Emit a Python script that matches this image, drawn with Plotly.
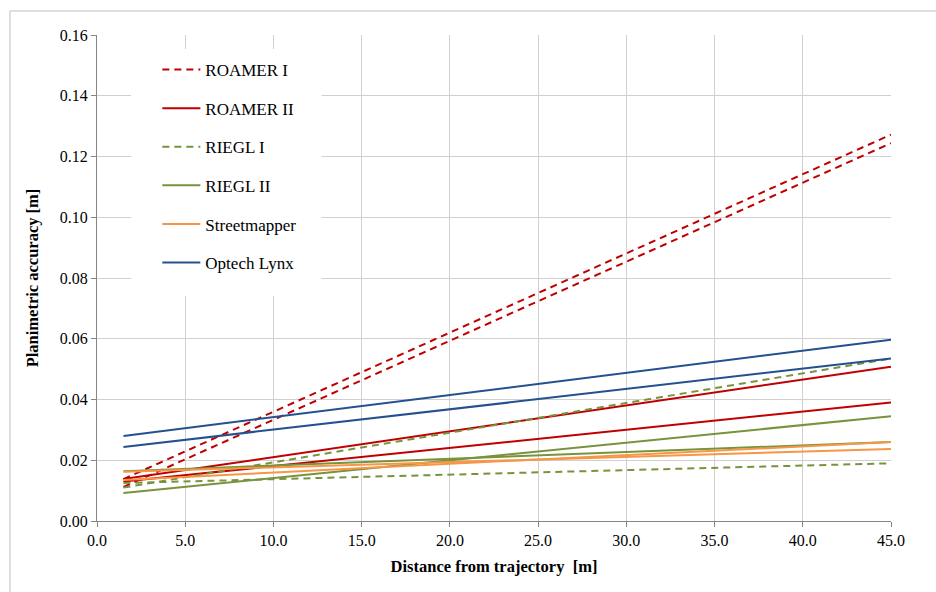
import plotly.graph_objects as go

# Distance from trajectory [m] (start and end of each fitted line)
x_dist = [1.5, 45.0]

series_names = ["ROAMER I", "ROAMER II", "RIEGL I", "RIEGL II", "Streetmapper", "Optech Lynx"]

# Planimetric accuracy [m], two lines per system
roamer1_a = [0.0138, 0.1272]
roamer1_b = [0.0112, 0.1244]
roamer2_a = [0.0138, 0.0508]
roamer2_b = [0.0130, 0.0390]
riegl1_a = [0.0110, 0.0535]
riegl1_b = [0.0125, 0.0190]
riegl2_a = [0.0092, 0.0345]
riegl2_b = [0.0164, 0.0260]
street_a = [0.0162, 0.0237]
street_b = [0.0135, 0.0260]
optech_a = [0.0280, 0.0597]
optech_b = [0.0244, 0.0535]

series_values = [
    (roamer1_a, roamer1_b),
    (roamer2_a, roamer2_b),
    (riegl1_a, riegl1_b),
    (riegl2_a, riegl2_b),
    (street_a, street_b),
    (optech_a, optech_b),
]
colors = ["#C00000", "#C00000", "#77933C", "#77933C", "#F79646", "#23508F"]
dashes = ["7px,5px", "solid", "7px,5px", "solid", "solid", "solid"]

x_ticks = [0, 5, 10, 15, 20, 25, 30, 35, 40, 45]
y_ticks = [0.00, 0.02, 0.04, 0.06, 0.08, 0.10, 0.12, 0.14, 0.16]

FONT = "Liberation Serif"

fig = go.Figure()
for name, (ya, yb), c, d in zip(series_names, series_values, colors, dashes):
    for i, yv in enumerate((ya, yb)):
        fig.add_trace(go.Scatter(
            x=x_dist, y=yv, mode="lines", name=name,
            legendgroup=name, showlegend=(i == 0),
            line=dict(color=c, width=2, dash=d),
        ))

fig.update_layout(
    width=936, height=592,
    margin=dict(l=97, r=45, t=35, b=71),
    paper_bgcolor="white", plot_bgcolor="white",
    font=dict(family=FONT, size=16, color="#000000"),
    showlegend=True,
    legend=dict(
        x=0.076, y=0.965, xanchor="left", yanchor="top",
        bgcolor="rgba(255,255,255,0)", borderwidth=0,
        font=dict(family=FONT, size=17, color="#000000"),
        tracegroupgap=13.5, itemwidth=38,
    ),
    xaxis=dict(
        range=[0, 45], tickvals=x_ticks, tickformat=".1f",
        showgrid=True, gridcolor="#D0D0D0", gridwidth=1,
        showline=True, linecolor="#868686", linewidth=1,
        ticks="outside", ticklen=5, tickcolor="#868686",
        zeroline=False,
        title=dict(text="<b>Distance from trajectory  [m]</b>",
                   font=dict(family=FONT, size=16.5), standoff=12),
        tickfont=dict(family=FONT, size=16),
    ),
    yaxis=dict(
        range=[0, 0.16], tickvals=y_ticks, tickformat=".2f",
        showgrid=True, gridcolor="#D0D0D0", gridwidth=1,
        showline=True, linecolor="#868686", linewidth=1,
        ticks="outside", ticklen=5, tickcolor="#868686",
        zeroline=False,
        title=dict(text="<b>Planimetric accuracy [m]</b>",
                   font=dict(family=FONT, size=16.5), standoff=17),
        tickfont=dict(family=FONT, size=16),
    ),
    shapes=[
        dict(type="rect", xref="paper", yref="paper",
             x0=-0.1096, x1=1.3, y0=-0.4, y1=1.0494,
             line=dict(color="#BFBFBF", width=1), layer="below"),
        # white legend background box (drawn between grid and lines)
        dict(type="rect", xref="x", yref="y",
             x0=1.93, x1=12.73, y0=0.0741, y1=0.1554,
             fillcolor="white", line=dict(width=0), layer="between"),
    ],
)

fig.write_html("out.html")
